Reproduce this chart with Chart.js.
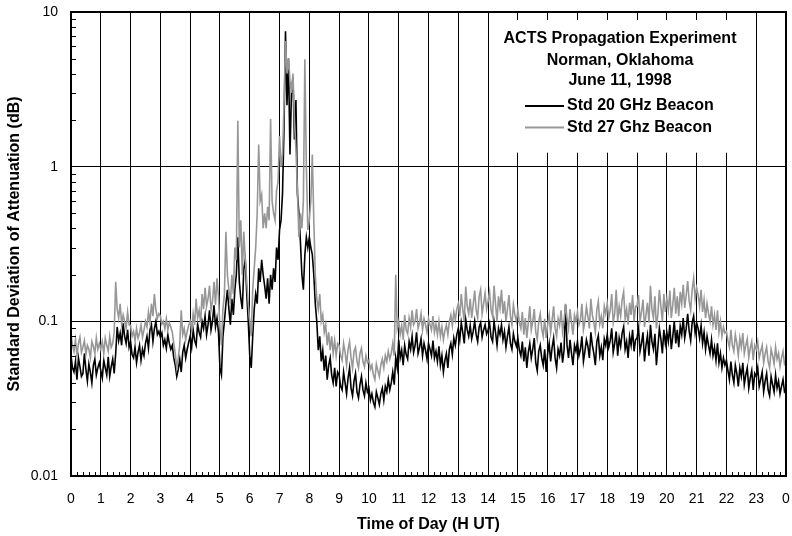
<!DOCTYPE html>
<html>
<head>
<meta charset="utf-8">
<script src="https://cdn.jsdelivr.net/npm/chart.js@4"></script>
<style>
html,body{margin:0;padding:0;background:#fff;}
#wrap{width:792px;height:536px;}
</style>
</head>
<body>
<div id="wrap"><canvas id="c" width="792" height="536"></canvas></div>
<script>
const FONT = 'Arial, "Liberation Sans", Helvetica, sans-serif';

// sample spacing of the series, in hours (UT)
const sampleStepHours = 0.05;

// Std 20 GHz Beacon (dB), one value every 0.05 h from 0 to 24 h (one row per hour)
const std20 = [
  0.06,0.05,0.047,0.055,0.042,0.058,0.051,0.044,0.046,0.062, 0.049,0.041,0.053,0.047,0.04,0.052,0.057,0.045,0.05,0.054,
  0.048,0.043,0.056,0.05,0.045,0.059,0.044,0.051,0.057,0.046, 0.062,0.092,0.075,0.084,0.07,0.097,0.08,0.072,0.088,0.068,
  0.074,0.061,0.058,0.068,0.054,0.063,0.07,0.056,0.066,0.06, 0.072,0.08,0.067,0.088,0.095,0.074,0.09,0.1,0.082,0.086,
  0.079,0.084,0.07,0.076,0.067,0.082,0.072,0.066,0.07,0.058, 0.052,0.044,0.049,0.057,0.047,0.063,0.07,0.058,0.066,0.073,
  0.08,0.068,0.088,0.075,0.07,0.096,0.085,0.079,0.1,0.09, 0.108,0.082,0.095,0.118,0.088,0.1,0.127,0.092,0.105,0.085,
  0.05,0.045,0.08,0.1,0.13,0.16,0.12,0.095,0.14,0.11, 0.16,0.2,0.35,0.18,0.14,0.12,0.22,0.25,0.15,0.1,
  0.06,0.05,0.08,0.12,0.15,0.13,0.22,0.18,0.25,0.2, 0.17,0.14,0.19,0.13,0.2,0.16,0.22,0.18,0.3,0.25,
  0.39,0.45,0.67,1.8,7.5,2.5,5.0,1.2,3.0,3.8, 1.5,2.7,0.67,0.5,0.33,0.2,0.16,0.27,0.35,0.3,
  0.35,0.3,0.27,0.2,0.13,0.1,0.065,0.08,0.055,0.065, 0.048,0.06,0.042,0.052,0.058,0.045,0.04,0.05,0.038,0.047,
  0.045,0.038,0.036,0.047,0.04,0.034,0.043,0.05,0.037,0.033, 0.041,0.046,0.035,0.032,0.039,0.044,0.036,0.033,0.04,0.035,
  0.037,0.031,0.034,0.03,0.028,0.035,0.032,0.029,0.034,0.037, 0.031,0.038,0.035,0.042,0.036,0.04,0.047,0.039,0.058,0.05,
  0.076,0.058,0.065,0.052,0.07,0.061,0.057,0.074,0.066,0.08, 0.063,0.07,0.085,0.062,0.068,0.077,0.06,0.072,0.065,0.057,
  0.072,0.066,0.06,0.075,0.058,0.064,0.055,0.069,0.052,0.06, 0.047,0.056,0.062,0.05,0.066,0.072,0.061,0.078,0.07,0.082,
  0.09,0.076,0.098,0.085,0.072,0.103,0.088,0.08,0.094,0.077, 0.086,0.1,0.082,0.074,0.092,0.098,0.079,0.088,0.095,0.083,
  0.088,0.097,0.079,0.074,0.1,0.085,0.07,0.09,0.082,0.095, 0.076,0.086,0.068,0.08,0.092,0.072,0.066,0.083,0.074,0.069,
  0.078,0.065,0.06,0.074,0.055,0.068,0.05,0.063,0.072,0.058, 0.066,0.078,0.054,0.048,0.064,0.07,0.058,0.052,0.066,0.047,
  0.062,0.072,0.055,0.068,0.078,0.058,0.05,0.066,0.06,0.073, 0.054,0.065,0.128,0.07,0.058,0.076,0.062,0.052,0.07,0.064,
  0.074,0.06,0.066,0.08,0.055,0.064,0.076,0.069,0.058,0.085, 0.07,0.062,0.052,0.074,0.081,0.06,0.068,0.056,0.077,0.07,
  0.082,0.068,0.075,0.09,0.063,0.072,0.086,0.06,0.078,0.069, 0.084,0.092,0.066,0.074,0.058,0.08,0.07,0.088,0.064,0.076,
  0.078,0.09,0.064,0.072,0.085,0.055,0.07,0.081,0.06,0.095, 0.074,0.066,0.083,0.052,0.068,0.09,0.077,0.062,0.088,0.072,
  0.085,0.074,0.095,0.066,0.08,0.1,0.072,0.088,0.068,0.093, 0.082,0.105,0.078,0.09,0.112,0.086,0.075,0.098,0.108,0.084,
  0.098,0.09,0.078,0.094,0.072,0.085,0.066,0.08,0.07,0.062, 0.076,0.06,0.068,0.056,0.072,0.054,0.062,0.05,0.058,0.052,
  0.056,0.048,0.042,0.055,0.045,0.04,0.052,0.046,0.038,0.05, 0.044,0.054,0.039,0.045,0.05,0.037,0.043,0.048,0.036,0.046,
  0.044,0.05,0.038,0.042,0.047,0.035,0.041,0.046,0.036,0.033, 0.044,0.039,0.035,0.045,0.037,0.041,0.034,0.038,0.042,0.035,
  0.036
];

// Std 27 GHz Beacon (dB), one value every 0.05 h from 0 to 24 h (one row per hour)
const std27 = [
  0.082,0.07,0.064,0.076,0.06,0.072,0.079,0.063,0.068,0.075, 0.061,0.07,0.066,0.058,0.074,0.069,0.062,0.078,0.066,0.072,
  0.066,0.074,0.062,0.078,0.07,0.064,0.08,0.068,0.072,0.085, 0.18,0.12,0.105,0.13,0.096,0.11,0.1,0.09,0.115,0.095,
  0.094,0.08,0.086,0.075,0.09,0.078,0.084,0.095,0.079,0.088, 0.1,0.092,0.115,0.098,0.13,0.108,0.15,0.118,0.105,0.112,
  0.108,0.096,0.1,0.09,0.104,0.088,0.098,0.092,0.085,0.072, 0.062,0.05,0.058,0.07,0.118,0.082,0.09,0.076,0.086,0.094,
  0.1,0.088,0.112,0.095,0.14,0.105,0.118,0.098,0.15,0.12, 0.165,0.125,0.14,0.17,0.118,0.135,0.18,0.128,0.19,0.145,
  0.09,0.07,0.12,0.15,0.38,0.2,0.16,0.13,0.2,0.15, 0.3,0.25,1.98,0.3,0.45,0.2,0.38,0.25,0.18,0.13,
  0.1,0.08,0.16,0.22,0.3,0.5,1.39,0.6,0.66,0.4, 0.5,0.4,0.55,0.45,2.03,0.6,0.5,0.45,0.7,0.8,
  1.58,1.0,1.2,2.5,6.5,4.0,5.0,3.6,3.0,4.0, 2.0,1.3,0.7,0.35,0.5,0.4,0.6,4.95,1.0,0.39,
  0.45,0.6,1.2,0.45,0.2,0.14,0.12,0.15,0.1,0.11, 0.085,0.095,0.07,0.085,0.065,0.08,0.062,0.075,0.06,0.072,
  0.07,0.06,0.056,0.072,0.063,0.052,0.066,0.074,0.058,0.05, 0.064,0.068,0.055,0.05,0.062,0.067,0.055,0.051,0.06,0.054,
  0.056,0.049,0.052,0.045,0.042,0.053,0.048,0.044,0.052,0.057, 0.05,0.06,0.055,0.064,0.057,0.062,0.072,0.06,0.2,0.09,
  0.1,0.082,0.094,0.076,0.11,0.088,0.083,0.105,0.092,0.118, 0.095,0.1,0.12,0.09,0.098,0.112,0.088,0.104,0.095,0.085,
  0.104,0.095,0.088,0.108,0.085,0.096,0.082,0.1,0.08,0.092, 0.076,0.087,0.095,0.082,0.1,0.11,0.094,0.115,0.102,0.12,
  0.13,0.108,0.15,0.12,0.1,0.168,0.125,0.112,0.14,0.105, 0.128,0.158,0.118,0.105,0.145,0.16,0.112,0.13,0.152,0.12,
  0.135,0.155,0.118,0.108,0.17,0.13,0.1,0.145,0.122,0.16, 0.112,0.135,0.1,0.12,0.148,0.108,0.095,0.128,0.11,0.1,
  0.118,0.098,0.09,0.115,0.082,0.105,0.078,0.098,0.125,0.088, 0.1,0.12,0.085,0.076,0.1,0.112,0.09,0.08,0.104,0.078,
  0.095,0.11,0.085,0.102,0.125,0.09,0.08,0.104,0.094,0.118, 0.086,0.1,0.13,0.105,0.09,0.12,0.098,0.082,0.11,0.1,
  0.115,0.095,0.102,0.13,0.088,0.1,0.124,0.108,0.09,0.14, 0.11,0.098,0.085,0.118,0.135,0.096,0.108,0.09,0.125,0.112,
  0.13,0.105,0.118,0.15,0.098,0.112,0.16,0.1,0.125,0.108, 0.138,0.155,0.104,0.12,0.095,0.132,0.11,0.148,0.1,0.125,
  0.125,0.148,0.1,0.115,0.138,0.092,0.11,0.132,0.098,0.17, 0.12,0.105,0.145,0.09,0.112,0.16,0.125,0.1,0.15,0.115,
  0.14,0.118,0.158,0.105,0.128,0.165,0.112,0.145,0.108,0.155, 0.13,0.172,0.122,0.148,0.182,0.135,0.118,0.16,0.19,0.14,
  0.165,0.148,0.125,0.16,0.115,0.138,0.105,0.13,0.112,0.1, 0.125,0.095,0.11,0.088,0.118,0.085,0.1,0.08,0.092,0.084,
  0.086,0.075,0.068,0.088,0.07,0.064,0.082,0.072,0.06,0.078, 0.068,0.084,0.062,0.07,0.077,0.058,0.067,0.074,0.056,0.07,
  0.066,0.074,0.058,0.064,0.07,0.054,0.062,0.068,0.055,0.05, 0.066,0.06,0.053,0.068,0.057,0.062,0.051,0.058,0.064,0.053,
  0.055
];

const xTickLabels = ['0','1','2','3','4','5','6','7','8','9','10','11','12',
  '13','14','15','16','17','18','19','20','21','22','23','0'];
const yDecades = [0.01, 0.1, 1, 10];
const yDecadeLabels = ['0.01', '0.1', '1', '10'];
const yMinorMultipliers = [2, 3, 4, 5, 6, 7, 8, 9];
const xMinorPerHour = 5;

const titleLines = ['ACTS Propagation Experiment', 'Norman, Oklahoma', 'June 11, 1998'];
const seriesNames = ['Std 20 GHz Beacon', 'Std 27 Ghz Beacon'];
const seriesColors = ['#000000', '#979797'];
const xTitle = 'Time of Day (H UT)';
const yTitle = 'Standard Deviation of Attenuation (dB)';

const toPoints = arr => arr.map((v, i) => ({ x: i * sampleStepHours, y: v }));

const isDecade = v => Math.abs(Math.log10(v) - Math.round(Math.log10(v))) < 1e-9;

const noScalePadding = s => { s.paddingLeft = 0; s.paddingRight = 0; s.paddingTop = 0; s.paddingBottom = 0; };

const decorPlugin = {
  id: 'decor',
  afterDatasetsDraw(chart) {
    const { ctx, chartArea, scales: { x, y } } = chart;
    const x0 = x.getPixelForValue(14) + 1.5;
    const x1 = x.getPixelForValue(23) - 1.5;
    const y0 = chartArea.top + 8;
    const y1 = y.getPixelForValue(1) - 14;
    ctx.save();
    ctx.fillStyle = '#ffffff';
    ctx.fillRect(x0, y0, x1 - x0, y1 - y0);
    ctx.fillStyle = '#000';
    ctx.font = 'bold 16px ' + FONT;
    ctx.textAlign = 'center';
    ctx.textBaseline = 'alphabetic';
    const cx = 620;
    const base = chartArea.top;
    const titleBaselines = [31, 52.5, 73];
    titleLines.forEach((t, i) => ctx.fillText(t, cx, base + titleBaselines[i]));
    const legBaselines = [98, 119.5];
    ctx.textAlign = 'left';
    seriesNames.forEach((name, i) => {
      const by = base + legBaselines[i];
      ctx.strokeStyle = seriesColors[i];
      ctx.lineWidth = 2;
      ctx.beginPath();
      ctx.moveTo(525, by - 4);
      ctx.lineTo(564, by - 4);
      ctx.stroke();
      ctx.fillStyle = '#000';
      ctx.fillText(name, 567, by);
    });
    ctx.restore();
  },
  afterDraw(chart) {
    const { ctx, chartArea: { left, right, top, bottom }, scales: { x, y } } = chart;
    ctx.save();
    ctx.strokeStyle = '#000';
    ctx.lineWidth = 1;
    ctx.beginPath();
    for (let d = 0; d < yDecades.length - 1; d++) {
      for (const m of yMinorMultipliers) {
        const py = Math.round(y.getPixelForValue(yDecades[d] * m)) + 0.5;
        ctx.moveTo(left, py);
        ctx.lineTo(left + 5, py);
      }
    }
    for (let h = 0; h < 24; h++) {
      for (let k = 1; k < xMinorPerHour; k++) {
        const px = Math.round(x.getPixelForValue(h + k / xMinorPerHour)) + 0.5;
        ctx.moveTo(px, bottom);
        ctx.lineTo(px, bottom - 4);
      }
    }
    ctx.stroke();
    ctx.lineWidth = 2;
    ctx.strokeRect(left, top, right - left, bottom - top);
    ctx.restore();
  }
};

new Chart(document.getElementById('c'), {
  type: 'line',
  data: {
    datasets: [
      {
        label: seriesNames[0],
        data: toPoints(std20),
        borderColor: seriesColors[0],
        borderWidth: 1.6,
        pointRadius: 0,
        tension: 0,
        fill: false,
        order: 2
      },
      {
        label: seriesNames[1],
        data: toPoints(std27),
        borderColor: seriesColors[1],
        borderWidth: 1.6,
        pointRadius: 0,
        tension: 0,
        fill: false,
        order: 1
      }
    ]
  },
  options: {
    responsive: false,
    animation: false,
    devicePixelRatio: 1,
    layout: { padding: { left: 0, right: 6, top: 12, bottom: 0 } },
    plugins: {
      legend: { display: false },
      title: { display: false },
      tooltip: { enabled: false }
    },
    scales: {
      x: {
        type: 'linear',
        min: 0,
        max: 24,
        afterFit: s => { s.height = 60; noScalePadding(s); },
        afterBuildTicks: s => { s.ticks = xTickLabels.map((_, i) => ({ value: i })); },
        ticks: {
          autoSkip: false,
          maxRotation: 0,
          padding: 15,
          color: '#000',
          font: { family: FONT, size: 14 },
          callback: (v, i) => xTickLabels[i]
        },
        grid: { color: '#000', lineWidth: 1, drawTicks: false },
        border: { display: false },
        title: {
          display: true,
          text: xTitle,
          color: '#000',
          font: { family: FONT, size: 16, weight: 'bold' },
          padding: { top: 0, bottom: 2 }
        }
      },
      y: {
        type: 'logarithmic',
        min: 0.01,
        max: 10,
        afterFit: s => { s.width = 71; noScalePadding(s); },
        afterBuildTicks: s => {
          const t = [];
          yDecades.forEach((d, i) => {
            t.push({ value: d, major: true });
            if (i < yDecades.length - 1) yMinorMultipliers.forEach(m => t.push({ value: d * m, major: false }));
          });
          s.ticks = t;
        },
        ticks: {
          autoSkip: false,
          padding: 13,
          color: '#000',
          font: { family: FONT, size: 14 },
          callback: (v) => {
            if (!isDecade(v)) return '';
            const idx = yDecades.findIndex(d => Math.abs(d - v) / d < 1e-6);
            return idx >= 0 ? yDecadeLabels[idx] : '';
          }
        },
        grid: {
          drawTicks: false,
          lineWidth: 1,
          color: ctx => (ctx.tick && isDecade(ctx.tick.value)) ? '#000' : 'rgba(0,0,0,0)'
        },
        border: { display: false },
        title: {
          display: true,
          text: yTitle,
          color: '#000',
          font: { family: FONT, size: 16, weight: 'bold' },
          padding: { top: 5, bottom: 0 }
        }
      }
    }
  },
  plugins: [decorPlugin]
});
</script>
</body>
</html>
